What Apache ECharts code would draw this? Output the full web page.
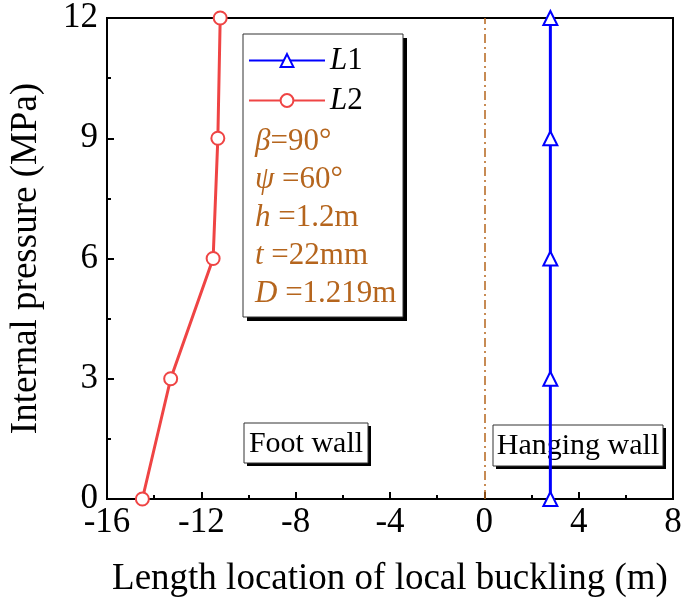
<!DOCTYPE html>
<html>
<head>
<meta charset="utf-8">
<script src="https://cdn.jsdelivr.net/npm/echarts@6/dist/echarts.min.js"></script>
<style>html,body{margin:0;padding:0;background:#fff}#c{width:685px;height:608px}</style>
</head>
<body>
<div id="c"></div>
<script>
const pressure = [0, 3, 6, 9, 12];
const L1 = [2.8, 2.8, 2.8, 2.8, 2.8];
const L2 = [-14.5, -13.3, -11.5, -11.3, -11.2];
const xTicks = [-16, -12, -8, -4, 0, 4, 8];
const yTicks = [0, 3, 6, 9, 12];
const dividerX = 0;
const params = [
  ['β', '=90°'],
  ['ψ', ' =60°'],
  ['h', ' =1.2m'],
  ['t', ' =22mm'],
  ['D', ' =1.219m']
];

const FONT = '"Liberation Serif", "Times New Roman", serif';
const BROWN = '#b5651d';
const chart = echarts.init(document.getElementById('c'), null, {renderer: 'canvas'});

const paramTexts = params.map((p, i) => ({
  type: 'text', left: 255, top: 143 + i * 38 - 17, z: 10,
  style: {
    text: '{i|' + p[0] + '}{n|' + p[1] + '}',
    rich: {
      i: {fontFamily: FONT, fontSize: 31, fontStyle: 'italic', fill: BROWN},
      n: {fontFamily: FONT, fontSize: 31, fill: BROWN}
    }
  }
}));

function shadowBox(x, y, w, h, off) {
  return [
    {type: 'rect', shape: {x: x + off, y: y + off, width: w, height: h}, style: {fill: '#000'}},
    {type: 'rect', shape: {x: x, y: y, width: w, height: h}, style: {fill: '#fff', stroke: '#333', lineWidth: 1}}
  ];
}

function boxLabel(x, y, w, h, text) {
  return {
    type: 'group', x: 0, y: 0, z: 10,
    children: [
      ...shadowBox(x, y, w, h, 3),
      {type: 'text', x: x + w / 2, y: y + h / 2 + 1,
       style: {text: text, font: '30px ' + FONT, fill: '#000', align: 'center', verticalAlign: 'middle'}}
    ]
  };
}

chart.setOption({
  animation: false,
  grid: {left: 100, right: 12, top: 18, bottom: 109, show: true, borderColor: '#000', borderWidth: 2, backgroundColor: 'transparent'},
  xAxis: {
    type: 'value', min: xTicks[0], max: xTicks[xTicks.length - 1], interval: 4,
    name: 'Length location of local buckling (m)', nameLocation: 'middle', nameGap: 62,
    nameTextStyle: {fontFamily: FONT, fontSize: 37, color: '#000'},
    axisLine: {show: true, onZero: false, lineStyle: {color: '#000', width: 2}},
    axisTick: {show: true, inside: true, length: 7, lineStyle: {color: '#000', width: 2}},
    minorTick: {show: true, splitNumber: 2, length: 4, lineStyle: {color: '#000', width: 2}},
    splitLine: {show: false},
    axisLabel: {margin: 6, fontFamily: FONT, fontSize: 35, color: '#000'}
  },
  yAxis: {
    type: 'value', min: yTicks[0], max: yTicks[yTicks.length - 1], interval: 3,
    name: 'Internal pressure (MPa)', nameLocation: 'middle', nameGap: 62,
    nameTextStyle: {fontFamily: FONT, fontSize: 37, color: '#000'},
    axisLine: {show: true, onZero: false, lineStyle: {color: '#000', width: 2}},
    axisTick: {show: true, inside: true, length: 7, lineStyle: {color: '#000', width: 2}},
    minorTick: {show: true, splitNumber: 2, length: 4, lineStyle: {color: '#000', width: 2}},
    splitLine: {show: false},
    axisLabel: {margin: 9, fontFamily: FONT, fontSize: 35, color: '#000'}
  },
  legend: {
    orient: 'vertical', left: 243, top: 40, itemWidth: 76, itemHeight: 16, itemGap: 9,
    z: 10,
    data: ['L1', 'L2'],
    formatter: name => '{i|L}{n|' + name.slice(1) + '}',
    textStyle: {
      rich: {
        i: {fontFamily: FONT, fontSize: 31, fontStyle: 'italic', color: '#000'},
        n: {fontFamily: FONT, fontSize: 31, color: '#000'}
      }
    }
  },
  graphic: [
    {type: 'group', x: 0, y: 0, z: 5, children: shadowBox(243, 34, 160, 283, 4)},
    ...paramTexts,
    boxLabel(244, 423, 124, 40, 'Foot wall'),
    boxLabel(493, 425, 170, 41, 'Hanging wall')
  ],
  series: [
    {
      name: 'L1', type: 'line', color: '#0000ff',
      data: pressure.map((p, i) => [L1[i], p]),
      symbol: 'emptyTriangle', symbolSize: 14,
      itemStyle: {color: '#0000ff', borderWidth: 2.5},
      lineStyle: {width: 3, color: '#0000ff'},
      z: 3,
      markLine: {
        silent: true, symbol: 'none', label: {show: false},
        lineStyle: {color: BROWN, width: 1.5, type: [9, 4, 2, 4]},
        data: [{xAxis: dividerX}]
      }
    },
    {
      name: 'L2', type: 'line', color: '#ef4444',
      data: pressure.map((p, i) => [L2[i], p]),
      symbol: 'emptyCircle', symbolSize: 13,
      itemStyle: {color: '#ef4444', borderWidth: 2.5},
      lineStyle: {width: 3, color: '#ef4444'},
      z: 3
    }
  ]
});
</script>
</body>
</html>
